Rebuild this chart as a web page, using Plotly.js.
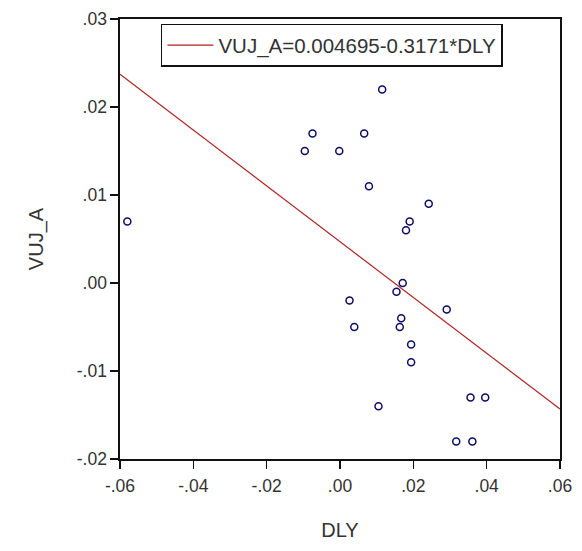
<!DOCTYPE html>
<html>
<head>
<meta charset="utf-8">
<script src="https://cdn.plot.ly/plotly-3.0.1.min.js"></script>
<style>html,body{margin:0;padding:0;background:#fff;}#chart{width:582px;height:551px;}</style>
</head>
<body>
<div id="chart"></div>
<script>
// Scatter data
const dly = [-0.058, 0.0079, 0.0242, 0.0190, 0.0180, 0.0171, 0.0154, 0.0026, 0.0291, 0.0167, 0.0039, 0.0163,
             0.0194, 0.0194, 0.0356, 0.0396, 0.0105, 0.0317, 0.0361, 0.0115, -0.0075, 0.0066, -0.0096, -0.0002];
const vujA = [0.007, 0.011, 0.009, 0.007, 0.006, 0.000, -0.001, -0.002, -0.003, -0.004, -0.005, -0.005,
              -0.007, -0.009, -0.013, -0.013, -0.014, -0.018, -0.018, 0.022, 0.017, 0.017, 0.015, 0.015];

// Regression coefficients (from legend)
const intercept = 0.004695;
const slope = -0.3171;
const fitLabel = 'VUJ_A=0.004695-0.3171*DLY';

// Axis ticks
const xTickVals = [-0.06, -0.04, -0.02, 0, 0.02, 0.04, 0.06];
const xTickText = ['-.06', '-.04', '-.02', '.00', '.02', '.04', '.06'];
const yTickVals = [-0.02, -0.01, 0, 0.01, 0.02, 0.03];
const yTickText = ['-.02', '-.01', '.00', '.01', '.02', '.03'];

const xRange = [-0.06, 0.06];
const yRange = [-0.02, 0.03];

const fitX = xRange.slice();
const fitY = fitX.map(x => intercept + slope * x);

const traces = [
  {
    x: fitX, y: fitY, type: 'scatter', mode: 'lines', name: fitLabel,
    line: {color: '#b22222', width: 1.2}, showlegend: true
  },
  {
    x: dly, y: vujA, type: 'scatter', mode: 'markers', showlegend: false,
    marker: {symbol: 'circle-open', size: 7, color: '#0c0c66', line: {width: 1.5, color: '#0c0c66'}}
  }
];

const axisCommon = {
  showgrid: false, zeroline: false, showline: true, mirror: true,
  linecolor: '#111', linewidth: 1.6,
  ticks: 'outside', ticklen: 8, tickwidth: 1.3, tickcolor: '#111',
  tickfont: {size: 17.5, color: '#333'}
};

const layout = {
  width: 582, height: 551,
  margin: {l: 120, r: 22, t: 19, b: 92, pad: 0},
  paper_bgcolor: '#fff', plot_bgcolor: '#fff',
  font: {family: 'Liberation Sans, Arial, sans-serif', color: '#333'},
  xaxis: Object.assign({}, axisCommon, {
    range: xRange, tickmode: 'array', tickvals: xTickVals, ticktext: xTickText,
    ticklabelstandoff: 2,
    title: {text: 'DLY', font: {size: 20, color: '#333'}, standoff: 28}
  }),
  yaxis: Object.assign({}, axisCommon, {
    range: yRange, tickmode: 'array', tickvals: yTickVals, ticktext: yTickText,
    title: {text: 'VUJ_A', font: {size: 20, color: '#333'}, standoff: 28}
  }),
  showlegend: true,
  legend: {
    x: 0.093, y: 0.989, xanchor: 'left', yanchor: 'top',
    bgcolor: '#fff', bordercolor: '#111', borderwidth: 1.5,
    itemwidth: 46,
    font: {size: 20.5, color: '#333'}
  }
};

Plotly.newPlot('chart', traces, layout, {displayModeBar: false, staticPlot: true});
</script>
</body>
</html>
